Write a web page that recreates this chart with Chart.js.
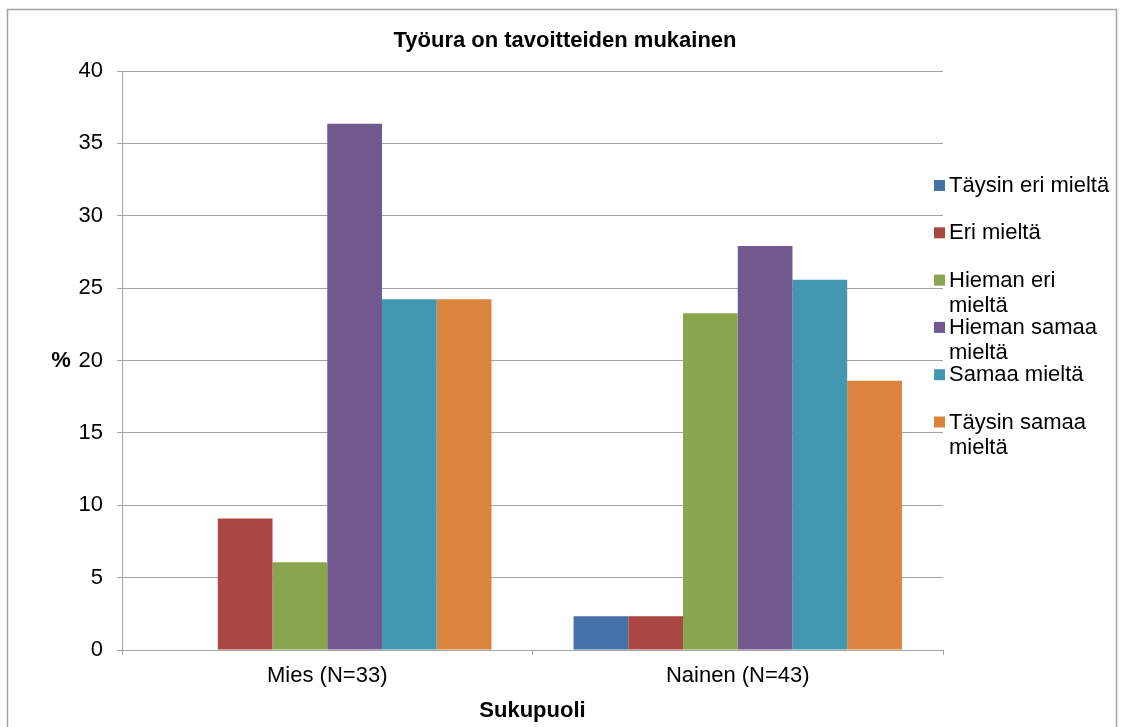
<!DOCTYPE html>
<html>
<head>
<meta charset="utf-8">
<script src="https://cdn.jsdelivr.net/npm/chart.js@4"></script>
<style>
  html, body { margin: 0; padding: 0; background: #fff; }
  #wrap { width: 1125px; height: 727px; position: relative; }
</style>
</head>
<body>
<div id="wrap"><canvas id="chart"></canvas></div>
<script>
"use strict";

// --- data (percentages per answer, by gender) ---
const categories = ['Mies (N=33)', 'Nainen (N=43)'];
const seriesNames = ['Täysin eri mieltä', 'Eri mieltä', 'Hieman eri mieltä',
  'Hieman samaa mieltä', 'Samaa mieltä', 'Täysin samaa mieltä'];
const taysinEri   = [0, 2.33];
const eri         = [9.09, 2.33];
const hiemanEri   = [6.06, 23.26];
const hiemanSamaa = [36.36, 27.91];
const samaa       = [24.24, 25.58];
const taysinSamaa = [24.24, 18.6];
const yTicks = [0, 5, 10, 15, 20, 25, 30, 35, 40];

const seriesValues = [taysinEri, eri, hiemanEri, hiemanSamaa, samaa, taysinSamaa];
const colors = ['#4572A7', '#AA4643', '#89A54E', '#71588F', '#4198AF', '#DB843D'];

const TITLE = 'Työura on tavoitteiden mukainen';
const FONT = "'Liberation Sans', Arial, sans-serif";
const GRID = '#a3a3a3';

Chart.defaults.font.family = FONT;
Chart.defaults.font.size = 22;
Chart.defaults.color = '#000';

// outer frame, title, "%" label and the right-hand legend
const decor = {
  id: 'decor',
  beforeDraw(chart) {
    const ctx = chart.ctx;
    ctx.save();
    ctx.strokeStyle = GRID;
    ctx.lineWidth = 1.5;
    ctx.strokeRect(7.5, 9.5, 1109, 740);
    ctx.restore();
  },
  afterDraw(chart) {
    const ctx = chart.ctx;
    const area = chart.chartArea;
    ctx.save();
    ctx.font = 'bold 22px ' + FONT;
    ctx.fillStyle = '#000';
    ctx.textAlign = 'center';
    ctx.textBaseline = 'middle';
    ctx.fillText(TITLE, 565, 41);
    ctx.fillText('%', 61, (area.top + area.bottom) / 2);

    ctx.font = '22px ' + FONT;
    ctx.textAlign = 'left';
    const maxW = 168;
    chart.data.datasets.forEach((ds, i) => {
      const top = 180 + i * 47.3;
      ctx.fillStyle = ds.backgroundColor;
      ctx.fillRect(934, top, 11, 11);
      // simple word wrap
      const words = ds.label.split(' ');
      const lines = [];
      let cur = '';
      words.forEach(w => {
        const t = cur ? cur + ' ' + w : w;
        if (ctx.measureText(t).width > maxW && cur) {
          lines.push(cur);
          cur = w;
        } else {
          cur = t;
        }
      });
      lines.push(cur);
      ctx.fillStyle = '#000';
      lines.forEach((ln, j) => ctx.fillText(ln, 949, top + 6 + j * 25));
    });
    ctx.restore();
  }
};

new Chart(document.getElementById('chart'), {
  type: 'bar',
  data: {
    labels: categories,
    datasets: seriesNames.map((name, i) => ({
      label: name,
      data: seriesValues[i],
      backgroundColor: colors[i],
      borderWidth: 0,
      categoryPercentage: 0.8,
      barPercentage: 1.0
    }))
  },
  options: {
    responsive: true,
    maintainAspectRatio: false,
    animation: false,
    layout: { padding: { left: 0, right: 182, top: 71, bottom: 0 } },
    plugins: {
      legend: { display: false },
      tooltip: { enabled: false },
      title: { display: false }
    },
    scales: {
      x: {
        grid: { drawOnChartArea: false, drawTicks: true, tickLength: 5, color: GRID },
        border: { color: GRID },
        ticks: { padding: 8, font: { size: 22 }, color: '#000' },
        title: {
          display: true,
          text: 'Sukupuoli',
          color: '#000',
          font: { size: 22, weight: 'bold' },
          padding: { top: 4, bottom: 3 }
        },
        afterFit(scale) { scale.height = 77; }
      },
      y: {
        min: 0,
        max: 40,
        afterBuildTicks(scale) { scale.ticks = yTicks.map(v => ({ value: v })); },
        grid: { color: GRID, tickLength: 5 },
        border: { color: GRID },
        ticks: { padding: 14, font: { size: 22 }, color: '#000' },
        afterFit(scale) { scale.width = 122; }
      }
    }
  },
  plugins: [decor]
});
</script>
</body>
</html>
